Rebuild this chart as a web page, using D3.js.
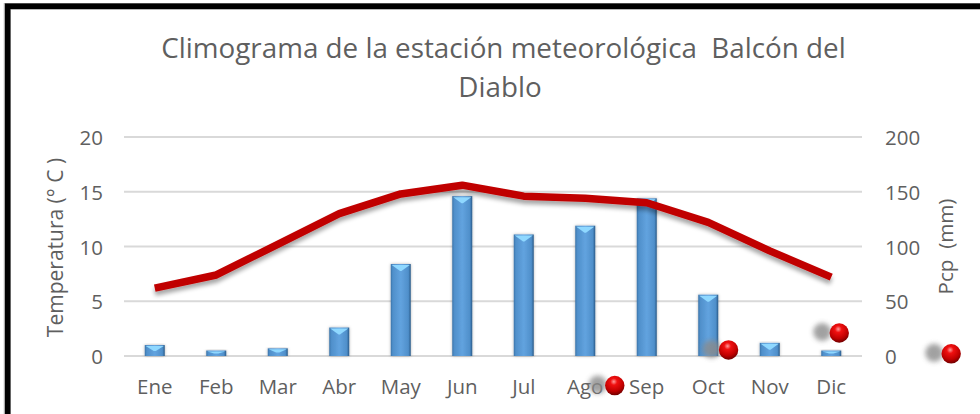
<!DOCTYPE html>
<html><head><meta charset="utf-8">
<script src="https://cdn.jsdelivr.net/npm/d3@7/dist/d3.min.js"></script>
<style>html,body{margin:0;padding:0;background:#fff}svg{display:block}text{font-family:"Open Sans",sans-serif;fill:#5f5f5f}</style>
</head><body><div id="c"></div>
<script>
const months=["Ene","Feb","Mar","Abr","May","Jun","Jul","Ago","Sep","Oct","Nov","Dic"];
const pcp=[10,5,7,26,84,146,111,119,144,56,12,5];
const temp=[6.2,7.4,10.2,13,14.8,15.6,14.6,14.4,14,12.2,9.6,7.2];
const tempTicks=[0,5,10,15,20];
const pcpTicks=[0,50,100,150,200];
const dotMonthPos=[7.98,9.83,11.63,13.45];
const dotPcp=[-27,5.5,21,2];
const titleLines=["Climograma de la estación meteorológica  Balcón del","Diablo"];

const W=980,H=414,L=124,R=862,T=137,B=356;
const svg=d3.select("#c").append("svg").attr("width",W).attr("height",H);
const defs=svg.append("defs");
const barG=defs.append("linearGradient").attr("id","bar");
[[0,"#3a73a8"],[.1,"#4f8fca"],[.5,"#62a3df"],[.88,"#4f8fca"],[1,"#2a5a88"]].forEach(d=>barG.append("stop").attr("offset",d[0]).attr("stop-color",d[1]));
const ball=defs.append("radialGradient").attr("id","ball").attr("cx",.45).attr("cy",.3).attr("r",.7);
[[0,"#ff9a9a"],[.25,"#f01010"],[.7,"#c00000"],[1,"#700000"]].forEach(d=>ball.append("stop").attr("offset",d[0]).attr("stop-color",d[1]));
const blur=defs.append("filter").attr("id","blur").attr("x","-100%").attr("y","-100%").attr("width","300%").attr("height","300%");
blur.append("feGaussianBlur").attr("stdDeviation",2.6);
const ls=defs.append("filter").attr("id","ls").attr("x","-5%").attr("y","-30%").attr("width","110%").attr("height","170%");
ls.append("feDropShadow").attr("dx",0).attr("dy",4).attr("stdDeviation",2.2).attr("flood-color","#000").attr("flood-opacity",.35);
const bs=defs.append("filter").attr("id","bs").attr("x","-30%").attr("y","-10%").attr("width","160%").attr("height","120%");
bs.append("feDropShadow").attr("dx",0).attr("dy",0).attr("stdDeviation",1.5).attr("flood-color","#000").attr("flood-opacity",.3);

svg.append("rect").attr("x",7.7).attr("y",6.2).attr("width",W+20).attr("height",H+20).attr("fill","#fff").attr("stroke","#000").attr("stroke-width",5.8);
svg.append("line").attr("x1",11).attr("x2",W).attr("y1",9.5).attr("y2",9.5).attr("stroke","#b5b5b5").attr("stroke-width",1);
svg.append("line").attr("x1",4.3).attr("x2",4.3).attr("y1",3).attr("y2",H).attr("stroke","#a0a0a0").attr("stroke-width",1);

const x=d3.scaleBand().domain(months).range([L,R]);
const yT=d3.scaleLinear().domain([0,20]).range([B,T]);
const yP=d3.scaleLinear().domain([0,200]).range([B,T]);
const xPos=d3.scaleLinear().domain([0,12]).range([L,R]);

svg.selectAll("text.title").data(titleLines).join("text").attr("class","title")
 .attr("x",(d,i)=>i?500:503.5).attr("y",(d,i)=>58+i*39).attr("text-anchor","middle").attr("font-size",27.8).style("white-space","pre").text(d=>d);

svg.append("g").selectAll("line").data(tempTicks).join("line").attr("x1",L).attr("x2",R)
 .attr("y1",d=>yT(d)).attr("y2",d=>yT(d)).attr("stroke","#d9d9d9").attr("stroke-width",2);

const axL=svg.append("g").attr("transform",`translate(103,1)`).call(d3.axisLeft(yT).tickValues(tempTicks).tickSize(0).tickPadding(0));
const axR=svg.append("g").attr("transform",`translate(885,1)`).call(d3.axisRight(yP).tickValues(pcpTicks).tickSize(0).tickPadding(0));
const axB=svg.append("g").attr("transform",`translate(0,${B+24})`).call(d3.axisBottom(x).tickSize(0).tickPadding(0));
[axL,axR,axB].forEach(a=>{a.select(".domain").remove();a.selectAll("text").attr("font-size",20.5).style("font-family",'"Open Sans",sans-serif').attr("fill","#5f5f5f")});
axB.selectAll("text").attr("dy","0.7em");

svg.append("text").attr("transform",`translate(63,247.5) rotate(-90)`).attr("text-anchor","middle").attr("font-size",21).text("Temperatura (° C )");
svg.append("text").attr("transform",`translate(953,246.5) rotate(-90)`).attr("text-anchor","middle").attr("font-size",20.6).style("white-space","pre").text("Pcp  (mm)");

const bw=20;
const bars=svg.append("g").selectAll("g").data(months).join("g");
bars.append("rect").attr("x",d=>x(d)+x.bandwidth()/2-bw/2).attr("y",(d,i)=>yP(pcp[i])).attr("width",bw).attr("height",(d,i)=>B-yP(pcp[i])).attr("fill","url(#bar)").attr("filter","url(#bs)");
bars.append("path").attr("d",(d,i)=>{
  const c=x(d)+x.bandwidth()/2,t=yP(pcp[i]),h=Math.min(7,(B-t)*.55),w=(bw/2-1)*(1-h/9);
  return `M${c-bw/2+1},${t+1}H${c+bw/2-1}L${c+w*.35},${t+h}H${c-w*.35}Z`;
}).attr("fill","#8fd8ff");

const line=d3.line().x((d,i)=>x(months[i])+x.bandwidth()/2).y(d=>yT(d));
svg.append("path").datum(temp).attr("d",line).attr("fill","none").attr("stroke","#c00000").attr("stroke-width",7.5).attr("stroke-linejoin","round").attr("filter","url(#ls)");

const dots=svg.append("g").selectAll("g").data(dotPcp).join("g");
dots.append("circle").attr("cx",(d,i)=>xPos(dotMonthPos[i])-17).attr("cy",d=>yP(d)-1).attr("r",9).attr("fill","#8a8a8a").attr("opacity",.8).attr("filter","url(#blur)");
dots.append("circle").attr("cx",(d,i)=>xPos(dotMonthPos[i])).attr("cy",d=>yP(d)).attr("r",9.7).attr("fill","url(#ball)");
</script></body></html>
